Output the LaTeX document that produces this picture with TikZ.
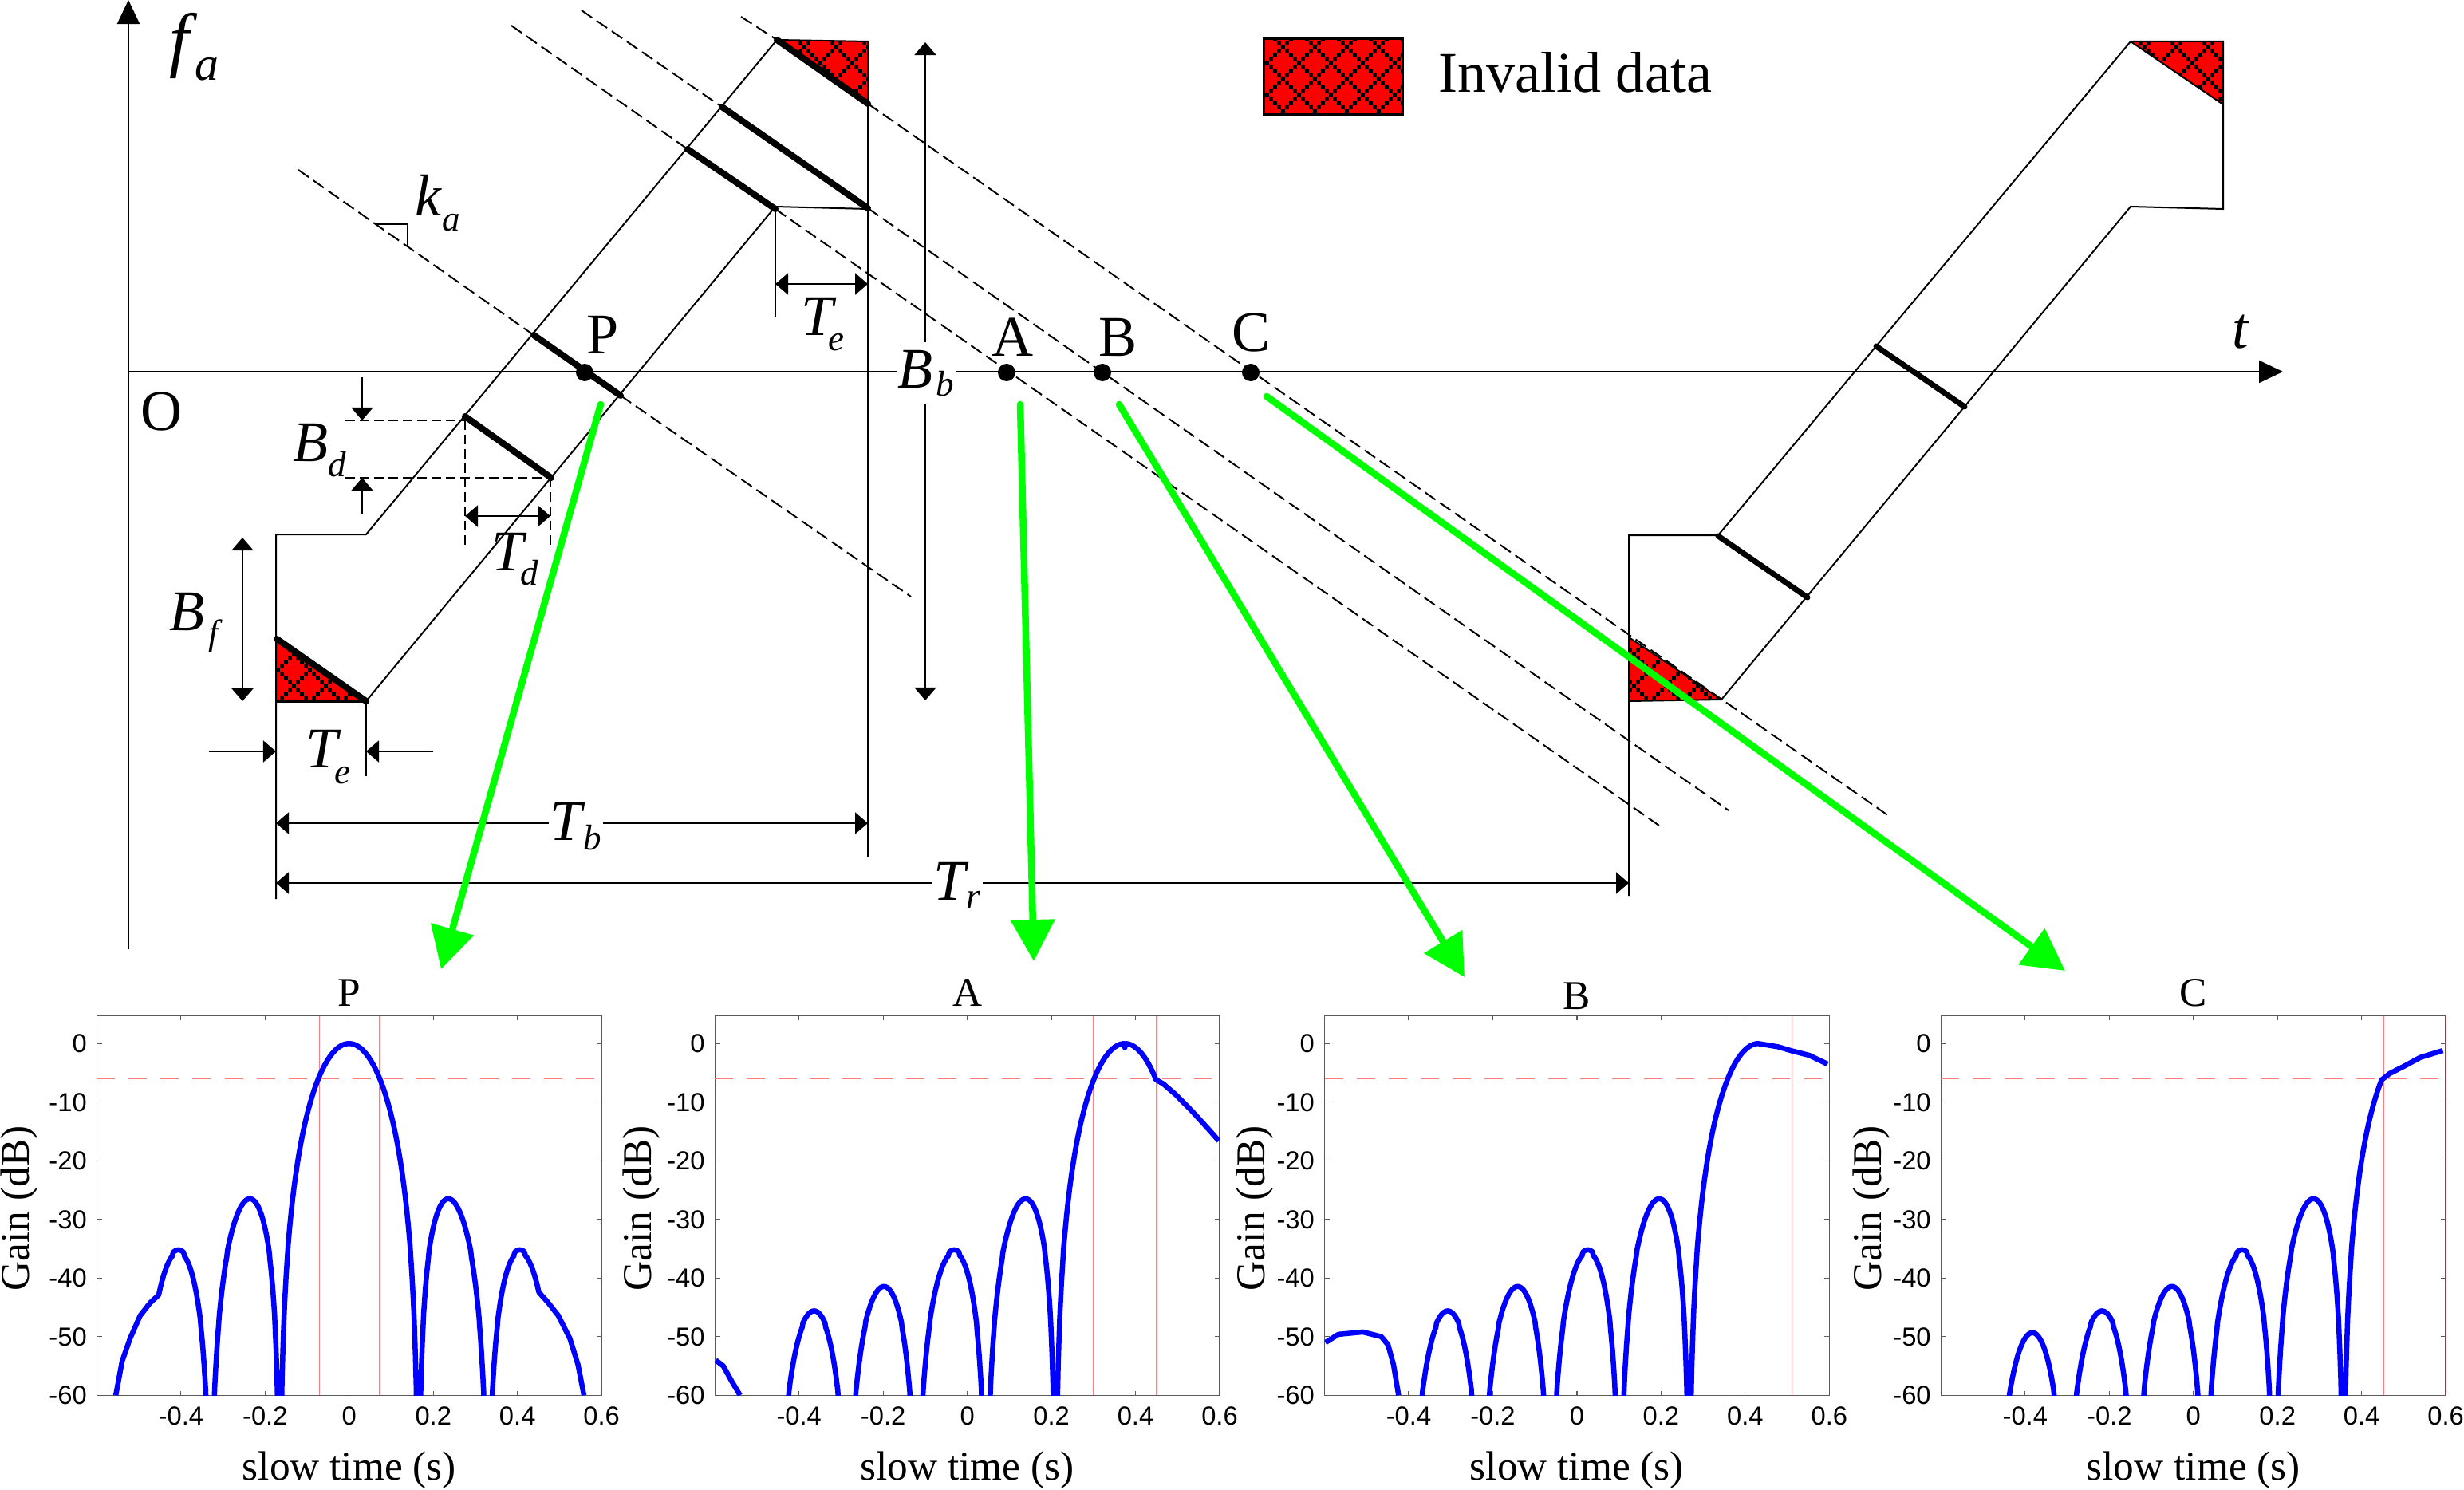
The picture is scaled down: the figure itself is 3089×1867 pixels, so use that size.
\documentclass[tikz,border=0pt]{standalone}
\usepackage{fontspec}
\setmainfont{Liberation Serif}
\newfontfamily\ticksans{Liberation Sans}
\usetikzlibrary{arrows.meta}
\definecolor{markred}{RGB}{255,125,125}
\definecolor{markgray}{RGB}{190,190,190}
\definecolor{framegray}{RGB}{90,90,90}
\definecolor{beamgreen}{RGB}{0,255,0}
\tikzset{
  dimtip/.tip={Triangle[length=0.16cm,width=0.27cm]},
  axistip/.tip={Triangle[length=0.3cm,width=0.28cm]},
  greentip/.tip={Triangle[length=0.52cm,width=0.54cm]},
  thinline/.style={line width=0.02cm},
  dashline/.style={line width=0.02cm,dash pattern=on 0.16cm off 0.07cm},
  thickseg/.style={line width=0.08cm,line cap=round},
  greenarrow/.style={line width=0.085cm,beamgreen,line cap=round,-greentip},
  bigtext/.style={font=\fontsize{20.5}{24}\selectfont,inner sep=0pt,anchor=base},
  mathtext/.style={font=\fontsize{20.5}{24}\selectfont,inner sep=0pt,anchor=base west},
  gapbox/.style={fill=white,inner xsep=0.02cm,inner ysep=0.02cm},
  panelat/.style={shift={(#1,1308.3)},x=5.27cm,y=0.07345cm},
  paneltext/.style={font=\fontsize{14.6}{17}\selectfont,inner sep=0pt,anchor=base},
  ticktext/.style={font=\fontsize{9.3}{11}\selectfont\ticksans,inner sep=0pt},
  gaincurve/.style={line width=0.065cm,blue,line join=round},
  marker/.style={line width=0.012cm,markred},
  declare function={lobegain(\tm,\pk)=40*log10(abs(sin(deg(pi*(\tm-\pk+0.00037)/0.165))/(pi*(\tm-\pk+0.00037)/0.165))+0.0005);}
}
% symbol with subscript: letter, subscript, kern, drop
\newcommand{\symb}[4]{\textit{#1}\kern#3\raisebox{-#4}{\fontsize{12.8}{14}\selectfont\textit{#2}}}
% red patch with the dotted lattice on top
\newcommand{\redpatch}[5]{
  \begin{scope}
    \clip #1;
    \fill[red] #1;
    \foreach \i in {#2,...,#3} {
      \foreach \j in {#4,...,#5} {
        \pgfmathtruncatemacro{\hit}{or(mod(\i-\j+800,8)==4,mod(\i+\j,8)==4)}
        \ifnum\hit=1
          \path[fill=black] ({5.8+5*\i},{5*\j-2.5}) rectangle ({10.8+5*\i},{5*\j+2.5});
        \fi
      }
    }
  \end{scope}
}
\begin{document}
\begin{tikzpicture}[x=0.01cm,y=-0.01cm]
  \useasboundingbox (0,0) rectangle (3089,1867);

  % axes
  \coordinate (orgbot) at (161,1190);
  \coordinate (orgtop) at (161,0);
  \coordinate (orgleft) at (161,466);
  \coordinate (orgright) at (2862,466);
  \draw[thinline,-axistip] (orgleft) -- (orgright);
  \draw[thinline,-axistip] (orgbot) -- (orgtop);

  % invalid data patches
  \redpatch{(974,52) -- (1088,52) -- (1088,130) -- cycle}{193}{216}{10}{26}
  \redpatch{(346,801) -- (459,879) -- (346,879) -- cycle}{68}{90}{160}{176}
  \redpatch{(2671,52) -- (2787,52) -- (2787,131) -- cycle}{532}{556}{10}{26}
  \redpatch{(2042,799) -- (2158,877) -- (2042,879) -- cycle}{407}{430}{160}{176}
  \redpatch{(1584,49) rectangle (1758,144)}{315}{350}{9}{29}
  \draw[line width=0.03cm] (1584,49) rectangle (1758,144);
  \node[bigtext,anchor=base west] (legendtext) at (1803,116) {Invalid data};

  % first burst
  \coordinate (bl) at (346,670);
  \coordinate (bm) at (459,670);
  \coordinate (bn) at (974,50);
  \coordinate (bo) at (1088,52);
  \coordinate (bp) at (1088,1074);
  \coordinate (bq) at (972,259);
  \coordinate (br) at (1088,262);
  \coordinate (bs) at (459,879);
  \coordinate (bt) at (346,879);
  \coordinate (bu) at (346,1127);
  \draw[thinline] (bu) -- (bl) -- (bm) -- (bn) -- (bo) -- (bp);
  \draw[thinline] (br) -- (bq) -- (bs);
  \draw[line width=0.03cm] (bs) -- (bt);
  \draw[thinline] (bs) -- (459,973);
  \draw[thinline] (bq) -- (972,398);

  % second burst
  \coordinate (cl) at (2042,671);
  \coordinate (cm) at (2154,671);
  \coordinate (cn) at (2671,52);
  \coordinate (co) at (2787,52);
  \coordinate (cp) at (2787,262);
  \coordinate (cq) at (2671,259);
  \coordinate (cs) at (2158,877);
  \coordinate (ct) at (2042,879);
  \coordinate (cu) at (2042,1123);
  \draw[thinline] (cu) -- (cl) -- (cm) -- (cn) -- (co) -- (cp) -- (cq) -- (cs) -- (ct);
  \draw[thinline] (cn) -- (2787,131);
  \draw[thinline] (2042,799) -- (cs);

  % dashed lines of constant slope
  \draw[dashline] (374,213) -- (669,420);
  \draw[dashline] (778,496) -- (1142,748);
  \draw[dashline] (641,32) -- (862,187);
  \draw[dashline] (972,262) -- (2080,1035);
  \draw[dashline] (729,13) -- (905,134);
  \draw[dashline] (1088,261) -- (2167,1016);
  \draw[dashline] (929,21) -- (974,50);
  \draw[dashline] (1088,130) -- (2368,1023);
  \draw[thinline] (471,281) -- (511,281) -- (511,308);

  % thick segments
  \draw[thickseg] (974,50) -- (1088,130);
  \draw[thickseg] (905,134) -- (1088,261);
  \draw[thickseg] (862,187) -- (972,262);
  \draw[thickseg] (669,420) -- (778,496);
  \draw[thickseg] (583,522) -- (691,599);
  \draw[thickseg] (347,801) -- (459,879);
  \draw[thickseg,line width=0.07cm] (2154,672) -- (2266,749);
  \draw[thickseg,line width=0.07cm] (2352,434) -- (2463,510);

  % dimension lines
  \draw[dashline,dash pattern=on 0.12cm off 0.06cm] (433,527) -- (583,527);
  \draw[dashline,dash pattern=on 0.12cm off 0.06cm] (433,599) -- (691,599);
  \draw[dashline,dash pattern=on 0.12cm off 0.06cm] (583,527) -- (583,683);
  \draw[dashline,dash pattern=on 0.12cm off 0.06cm] (690,599) -- (690,685);
  \draw[thinline,-dimtip] (454,473) -- (454,527);
  \draw[thinline,-dimtip] (454,645) -- (454,599);
  \draw[thinline,dimtip-dimtip] (583,647) -- (690,647);
  \draw[thinline,dimtip-dimtip] (304,674) -- (304,879);
  \draw[thinline,-dimtip] (262,942) -- (346,942);
  \draw[thinline,-dimtip] (543,942) -- (459,942);
  \draw[thinline,dimtip-dimtip] (972,356) -- (1088,356);
  \draw[thinline,dimtip-dimtip] (346,1032) -- (1088,1032);
  \draw[thinline,dimtip-dimtip] (346,1107) -- (2042,1107);
  \draw[thinline,dimtip-dimtip] (1160,53) -- (1160,878);

  % labels of the sketch
  \node[mathtext,font=\fontsize{25.5}{30}\selectfont] (labfa) at (212,80) {\symb{f}{\fontsize{17}{20}\selectfont a}{-0.03cm}{0.2cm}};
  \node[mathtext,font=\fontsize{21}{25}\selectfont] (labka) at (520,271) {\symb{k}{a}{0cm}{0.18cm}};
  \node[mathtext] (labbd) at (367,578) {\symb{B}{d}{0cm}{0.19cm}};
  \node[mathtext] (labtd) at (616,715) {\symb{T}{d}{-0.09cm}{0.18cm}};
  \node[mathtext] (labbf) at (212,790) {\symb{B}{f}{0.05cm}{0.18cm}};
  \node[mathtext] (labte) at (383,962) {\symb{T}{e}{-0.09cm}{0.2cm}};
  \node[mathtext] (labtu) at (1004,420) {\symb{T}{e}{-0.11cm}{0.19cm}};
  \node[mathtext,gapbox] (labtb) at (687,1053) {\symb{T}{b}{-0.03cm}{0.12cm}};
  \node[mathtext,gapbox,inner xsep=0.03cm] (labtr) at (1167,1128) {\symb{T}{r}{-0.04cm}{0.1cm}};
  \node[mathtext,gapbox,inner ysep=0.1cm] (labbb) at (1123,486) {\symb{B}{b}{0.04cm}{0.1cm}};
  \node[bigtext] (labo) at (203,539) {O};
  \node[bigtext] (labp) at (756,443) {P};
  \node[bigtext] (laba) at (1270,446) {A};
  \node[bigtext] (labb) at (1402,446) {B};
  \node[bigtext] (labc) at (1569,440) {C};
  \node[bigtext,font=\fontsize{21}{25}\selectfont\itshape] (labt) at (2809,436) {t};

  % points on the time axis
  \foreach \dname/\dx in {P/733,A/1262,B/1382,C/1568} {
    \fill (\dx,467) circle (11) coordinate (dot\dname);
  }

  % plots
  \foreach \cx/\ttl/\tdrop/\ylx in {437.8/P/0/-85,1212.6/A/0/-80,1976.9/B/0.04/-75,2749.7/C/0/-75} {
    \begin{scope}[panelat=\cx]
      \draw[line width=0.014cm,framegray] (-0.6,-60) rectangle (0.6,4.7);
      \foreach \t in {-0.4,-0.2,0,0.2,0.4} {
        \draw[line width=0.012cm,framegray] (\t,-60) -- ++(0,0.7);
        \draw[line width=0.012cm,framegray] (\t,4.7) -- ++(0,-0.7);
      }
      \foreach \d in {0,-10,-20,-30,-40,-50} {
        \draw[line width=0.012cm,framegray] (-0.6,\d) -- ++(0.012,0);
        \draw[line width=0.012cm,framegray] (0.6,\d) -- ++(-0.012,0);
      }
      \foreach \t [count=\n] in {-0.4,-0.2,0,0.2,0.4,0.6} {
        \node[ticktext,anchor=base,yshift=-0.37cm] (xtick\ttl\n) at (\t,-60) {\t};
      }
      \foreach \d [count=\n] in {0,-10,-20,-30,-40,-50,-60} {
        \node[ticktext,anchor=east,xshift=-0.12cm] (ytick\ttl\n) at (-0.6,\d) {\d};
      }
      \draw[marker,dash pattern=on 0.23cm off 0.17cm] (-0.6,-6) -- (0.6,-6);
      \node[paneltext,yshift={0.126cm-\tdrop*1cm}] (title\ttl) at (0,4.7) {\ttl};
      \node[paneltext,yshift=-1.06cm] (xlab\ttl) at (0,-60) {slow time (s)};
      \node[paneltext,rotate=90,xshift=0cm] (ylab\ttl) at ([xshift=\ylx*0.01cm]-0.6,-28.1) {Gain (dB)};
    \end{scope}
  }

  \begin{scope}[panelat=437.8]
    \clip (-0.6,-60) rectangle (0.6,4.7);
    \draw[marker] (-0.071,-60) -- (-0.071,4.7);
    \draw[marker] (0.0725,-60) -- (0.0725,4.7);
    \draw[gaincurve] plot coordinates {(-0.555,-60) (-0.54,-54.2) (-0.521,-50.3) (-0.497,-46.4) (-0.473,-44.2)}
      -- plot[domain=-0.453:0.451,samples=500] (\x,{lobegain(\x,0)})
      -- plot coordinates {(0.473,-44.2) (0.497,-46.4) (0.5245,-50.3) (0.544,-54.8) (0.558,-60)};
  \end{scope}

  \begin{scope}[panelat=1212.6]
    \clip (-0.6,-60) rectangle (0.6,4.7);
    \draw[marker] (0.3,-60) -- (0.3,4.7);
    \draw[marker] (0.45,-60) -- (0.45,4.7);
    \draw[gaincurve] plot coordinates {(-0.598,-54) (-0.58,-55) (-0.56,-57.6) (-0.54,-60)};
    \draw[gaincurve] plot[domain=-0.45:0.45,samples=500] (\x,{lobegain(\x,0.375)})
      -- plot coordinates {(0.4665,-6.9) (0.4955,-8.7) (0.534,-11.5) (0.5735,-14.6) (0.598,-16.6)};
  \end{scope}

  \begin{scope}[panelat=1976.9]
    \clip (-0.6,-60) rectangle (0.6,4.7);
    \draw[marker,markgray] (0.362,-60) -- (0.362,4.7);
    \draw[marker] (0.511,-60) -- (0.511,4.7);
    \draw[gaincurve] plot coordinates {(-0.598,-51) (-0.567,-49.6) (-0.509,-49.2) (-0.465,-50) (-0.449,-51.4) (-0.436,-54.8) (-0.424,-60)};
    \draw[gaincurve] plot[domain=-0.393:0.432,samples=500] (\x,{lobegain(\x,0.432)})
      -- plot coordinates {(0.478,-0.55) (0.511,-1.25) (0.552,-2) (0.596,-3.5)};
  \end{scope}

  \begin{scope}[panelat=2749.7]
    \clip (-0.6,-60) rectangle (0.601,4.7);
    \draw[marker] (0.452,-60) -- (0.452,4.7);
    \draw[marker] (0.6,-60) -- (0.6,4.7);
    \draw[gaincurve] plot[domain=-0.468:0.449,samples=500] (\x,{lobegain(\x,0.522)})
      -- plot coordinates {(0.467,-5.1) (0.5,-3.9) (0.54,-2.35) (0.593,-1.2)};
  \end{scope}

  % green arrows from the points to their plots
  \coordinate (fromP) at (753,507);
  \coordinate (toP) at (553,1215);
  \coordinate (fromA) at (1279,507);
  \coordinate (toA) at (1296,1205);
  \coordinate (fromB) at (1403,507);
  \coordinate (toB) at (1836,1225);
  \coordinate (fromC) at (1588,497);
  \coordinate (toC) at (2589,1217);
  \draw[greenarrow] (fromP) -- (toP);
  \draw[greenarrow] (fromA) -- (toA);
  \draw[greenarrow] (fromB) -- (toB);
  \draw[greenarrow] (fromC) -- (toC);
\end{tikzpicture}
\end{document}
